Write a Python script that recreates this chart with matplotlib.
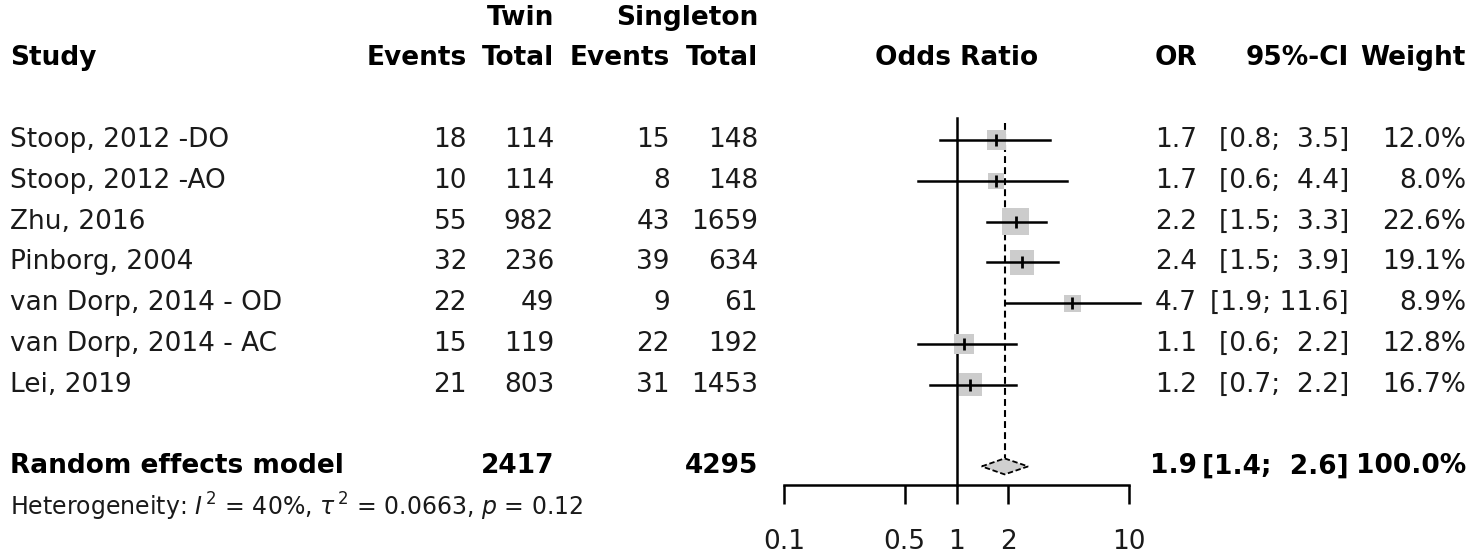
import matplotlib
matplotlib.use('Agg')
import matplotlib.pyplot as plt
from matplotlib.patches import Rectangle, Polygon
from matplotlib.transforms import blended_transform_factory
from matplotlib.ticker import NullLocator

# ---------------- data ----------------
studies = ["Stoop, 2012 -DO", "Stoop, 2012 -AO", "Zhu, 2016", "Pinborg, 2004",
           "van Dorp, 2014 - OD", "van Dorp, 2014 - AC", "Lei, 2019"]
twin_events = [18, 10, 55, 32, 22, 15, 21]
twin_total = [114, 114, 982, 236, 49, 119, 803]
single_events = [15, 8, 43, 39, 9, 22, 31]
single_total = [148, 148, 1659, 634, 61, 192, 1453]
or_est = [1.7, 1.7, 2.2, 2.4, 4.7, 1.1, 1.2]
ci_low = [0.8, 0.6, 1.5, 1.5, 1.9, 0.6, 0.7]
ci_high = [3.5, 4.4, 3.3, 3.9, 11.6, 2.2, 2.2]
weights = [12.0, 8.0, 22.6, 19.1, 8.9, 12.8, 16.7]

pooled_label = "Random effects model"
pooled_twin_total = 2417
pooled_single_total = 4295
pooled_or = 1.9
pooled_low = 1.4
pooled_high = 2.6
pooled_weight = 100.0

het_text = r"Heterogeneity: $I^{\,2}$ = 40%, $\tau^{\,2}$ = 0.0663, $p$ = 0.12"
xticks = [0.1, 0.5, 1, 2, 10]
xtick_labels = ["0.1", "0.5", "1", "2", "10"]

# ---------------- layout ----------------
W, H = 1478, 559
plt.rcParams['mathtext.fontset'] = 'dejavusans'
fig = plt.figure(figsize=(W / 100, H / 100), dpi=100)
ax = fig.add_axes([0, 0, 1, 1])
ax.set_xscale('log')
X1, DEC = 956.5, 172.5          # pixel of OR=1, pixels per decade
ax.set_xlim(10 ** ((0 - X1) / DEC), 10 ** ((W - X1) / DEC))
Y0, ROW = 140.0, 40.8           # pixel of first row, row height
ax.set_ylim((H - Y0) / ROW, -Y0 / ROW)
ax.patch.set_alpha(0)

tr = blended_transform_factory(fig.transFigure, ax.transData)
FS = 19
TXT = '#1a1a1a'


def put(xpix, row, s, ha='right', bold=False, fs=FS):
    ax.text(xpix / W, row, s, transform=tr, ha=ha, va='center', fontsize=fs,
            fontweight='bold' if bold else 'normal',
            color='black' if bold else TXT)


# column right edges (pixels)
C_STUDY = 10
C_TE, C_TT, C_SE, C_ST = 467, 554, 670, 758
C_OR, C_CI, C_W = 1197, 1349, 1466
C_PLOT = 956.5

# headers
put(C_TT, -3, "Twin", bold=True)
put(C_ST, -3, "Singleton", bold=True)
put(C_STUDY, -2, "Study", ha='left', bold=True)
put(C_TE, -2, "Events", bold=True)
put(C_TT, -2, "Total", bold=True)
put(C_SE, -2, "Events", bold=True)
put(C_ST, -2, "Total", bold=True)
put(C_PLOT, -2, "Odds Ratio", ha='center', bold=True)
put(C_OR, -2, "OR", bold=True)
put(C_CI, -2, "95%-CI", bold=True)
put(C_W, -2, "Weight", bold=True)

# study rows
rows = list(range(len(studies)))
for i in rows:
    put(C_STUDY, i, studies[i], ha='left')
    put(C_TE, i, f"{twin_events[i]}")
    put(C_TT, i, f"{twin_total[i]}")
    put(C_SE, i, f"{single_events[i]}")
    put(C_ST, i, f"{single_total[i]}")
    put(C_OR, i, f"{or_est[i]:.1f}")
    put(C_CI, i, f"[{ci_low[i]:.1f}; {ci_high[i]:>4.1f}]")
    put(C_W, i, f"{weights[i]:.1f}%")

# pooled row
prow = len(studies) + 1
put(C_STUDY, prow, pooled_label, ha='left', bold=True)
put(C_TT, prow, f"{pooled_twin_total}", bold=True)
put(C_ST, prow, f"{pooled_single_total}", bold=True)
put(C_OR, prow, f"{pooled_or:.1f}", bold=True)
put(C_CI, prow, f"[{pooled_low:.1f}; {pooled_high:>4.1f}]", bold=True)
put(C_W, prow, f"{pooled_weight:.1f}%", bold=True)
put(C_STUDY, prow + 1, het_text, ha='left', fs=17)

# ---------------- forest ----------------
axis_row = (485 - Y0) / ROW
top_row = (118 - Y0) / ROW
diam_h = 8.0 / ROW
LW = 1.8

ax.plot([1, 1], [top_row, axis_row], color='black', lw=LW, zorder=2)
ax.plot([pooled_or, pooled_or], [(123 - Y0) / ROW, prow - diam_h], color='black',
        lw=1.5, ls=(0, (3.3, 2.0)), zorder=2)

for i in rows:
    side = 5.6 * weights[i] ** 0.5           # box side in pixels, area ~ weight
    hw = side / 2 / DEC                       # half-width in log10 units
    x0 = or_est[i] * 10 ** (-hw)
    x1 = or_est[i] * 10 ** (hw)
    h = side / ROW
    ax.add_patch(Rectangle((x0, i - h / 2), x1 - x0, h, facecolor='#cccccc',
                           edgecolor='none', zorder=3))
    ax.plot([ci_low[i], ci_high[i]], [i, i], color='black', lw=LW, zorder=4)
    ax.plot([or_est[i]], [i], marker='|', color='black', markersize=8,
            mew=2, zorder=5)

diamond = Polygon([(pooled_low, prow), (pooled_or, prow - diam_h),
                   (pooled_high, prow), (pooled_or, prow + diam_h)],
                  closed=True, facecolor='#d0d0d0', edgecolor='black',
                  lw=1.3, ls=(0, (3, 1.5)), zorder=4)
ax.add_patch(diamond)

# x axis
for s in ['top', 'left', 'right']:
    ax.spines[s].set_visible(False)
ax.spines['bottom'].set_position(('data', axis_row))
ax.spines['bottom'].set_bounds(0.1, 10)
ax.spines['bottom'].set_linewidth(LW)
ax.set_xticks(xticks)
ax.set_xticklabels(xtick_labels)
ax.xaxis.set_minor_locator(NullLocator())
ax.tick_params(axis='x', direction='out', length=13.7, width=LW,
               pad=18, labelsize=FS, labelcolor=TXT)
ax.set_yticks([])

fig.savefig('out.png', dpi=100, facecolor='white')
